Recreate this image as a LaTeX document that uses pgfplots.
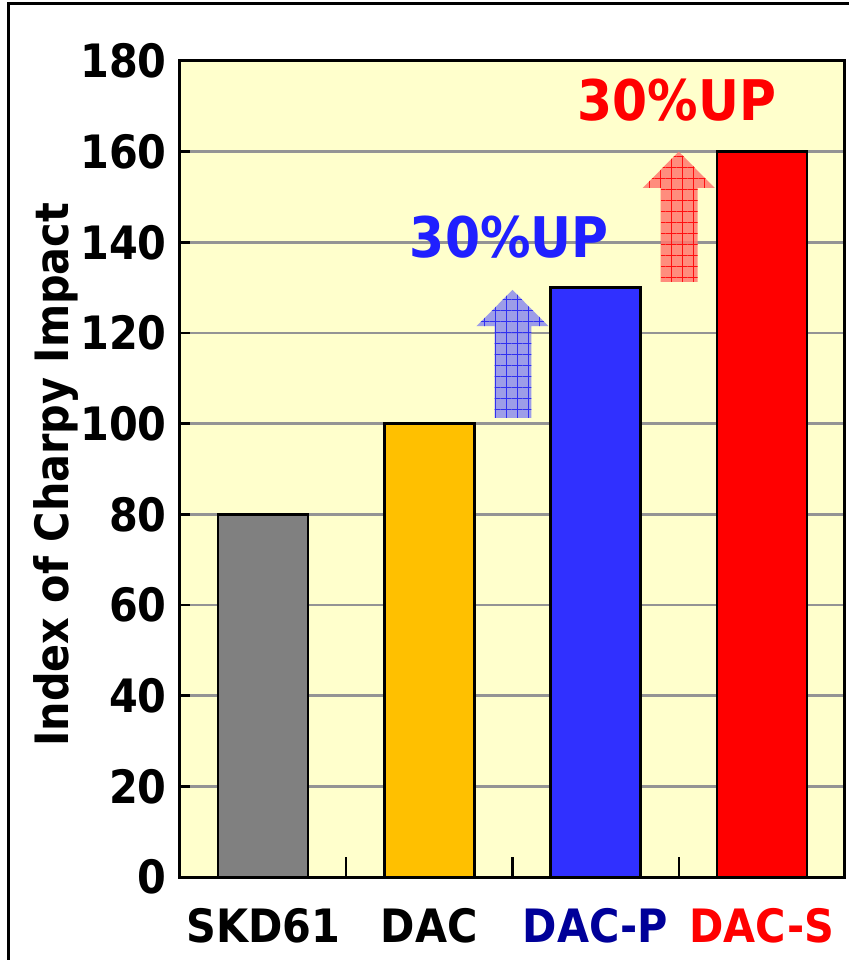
\documentclass[border=0pt]{standalone}
\usepackage{fontspec}
\setmainfont{DejaVu Sans Condensed}
\usepackage{pgfplots}
\pgfplotsset{compat=1.18}
\usetikzlibrary{patterns.meta}
\definecolor{bgyellow}{HTML}{FFFFCC}
\definecolor{barGray}{HTML}{808080}
\definecolor{barOrange}{HTML}{FFC000}
\definecolor{barBlue}{HTML}{3030FF}
\definecolor{barRed}{HTML}{FF0000}
\definecolor{navyText}{HTML}{000099}
\definecolor{blueText}{HTML}{2020FF}
\definecolor{arrowBlueFill}{HTML}{8C8CEE}
\definecolor{arrowBlueLine}{HTML}{3030F0}
\definecolor{arrowRedFill}{HTML}{FF7A70}
\definecolor{arrowRedLine}{HTML}{FF1010}
\begin{document}
\begin{tikzpicture}
\begin{axis}[
  at={(0,0)}, anchor=south west,
  width=332.5pt, height=408pt, scale only axis,
  xmin=-0.5, xmax=3.5, ymin=0, ymax=180,
  ytick={0,20,...,180},
  ymajorgrids,
  grid style={line width=1.4pt, color=black!42},
  axis background/.style={fill=bgyellow},
  axis line style={line width=1.5pt},
  tick pos=left,
  tick align=inside,
  xtick={0,1,2,3},
  xticklabels={SKD61,DAC,\textcolor{navyText}{DAC-P},\textcolor{barRed}{DAC-S}},
  x tick style={draw=none},
  major tick length=5pt,
  y tick style={line width=1.2pt, black},
  xticklabel style={inner sep=0pt, anchor=north, yshift=-15.5pt},
  yticklabel style={inner sep=0pt, anchor=east, xshift=-6.5pt},
  tick label style={font=\bfseries\fontsize{23}{23}\selectfont},
  /pgf/number format/assume math mode=true,
  ylabel={Index of Charpy Impact},
  ylabel style={at={(axis description cs:-0.1865,0.493)}, anchor=center, font=\bfseries\fontsize{23}{23}\selectfont},
  clip=false,
]
\addplot[ybar, bar width=45pt, bar shift=0pt, fill=barGray, draw=black, line width=1.2pt] coordinates {(0,80)};
\addplot[ybar, bar width=45pt, bar shift=0pt, fill=barOrange, draw=black, line width=1.2pt] coordinates {(1,100)};
\addplot[ybar, bar width=45pt, bar shift=0pt, fill=barBlue, draw=black, line width=1.2pt] coordinates {(2,130)};
\addplot[ybar, bar width=45pt, bar shift=0pt, fill=barRed, draw=black, line width=1.2pt] coordinates {(3,160)};
% category boundary ticks
\draw[line width=1.2pt] (axis cs:0.5,0) -- ++(0pt,10pt);
\draw[line width=1.2pt] (axis cs:1.5,0) -- ++(0pt,10pt);
\draw[line width=1.2pt] (axis cs:2.5,0) -- ++(0pt,10pt);
% blue arrow
\fill[arrowBlueFill, fill opacity=0.85] (axis cs:1.392,101.3) -- (axis cs:1.392,121.5) -- (axis cs:1.283,121.5) -- (axis cs:1.5,129.5) -- (axis cs:1.717,121.5) -- (axis cs:1.614,121.5) -- (axis cs:1.614,101.3) -- cycle;
\fill[pattern={Hatch[angle=0, distance=5.5pt, line width=0.5pt]}, pattern color=arrowBlueLine] (axis cs:1.392,101.3) -- (axis cs:1.392,121.5) -- (axis cs:1.283,121.5) -- (axis cs:1.5,129.5) -- (axis cs:1.717,121.5) -- (axis cs:1.614,121.5) -- (axis cs:1.614,101.3) -- cycle;
% red arrow
\fill[arrowRedFill, fill opacity=0.85] (axis cs:2.392,131.3) -- (axis cs:2.392,152) -- (axis cs:2.283,152) -- (axis cs:2.5,160) -- (axis cs:2.717,152) -- (axis cs:2.614,152) -- (axis cs:2.614,131.3) -- cycle;
\fill[pattern={Hatch[angle=0, distance=5.5pt, line width=0.5pt]}, pattern color=arrowRedLine] (axis cs:2.392,131.3) -- (axis cs:2.392,152) -- (axis cs:2.283,152) -- (axis cs:2.5,160) -- (axis cs:2.717,152) -- (axis cs:2.614,152) -- (axis cs:2.614,131.3) -- cycle;
\node[text=blueText, font=\bfseries\fontsize{28}{28}\selectfont] at (axis cs:1.48,141.2) {30\%UP};
\node[text=barRed, font=\bfseries\fontsize{28}{28}\selectfont] at (axis cs:2.49,171.4) {30\%UP};
\end{axis}
\draw[line width=1.5pt] (-85.5pt,-60pt) -- (-85.5pt,436.5pt) -- (350pt,436.5pt);
\pgfresetboundingbox
\useasboundingbox (-90pt,-41.5pt) rectangle (334pt,438.5pt);
\end{tikzpicture}
\end{document}
